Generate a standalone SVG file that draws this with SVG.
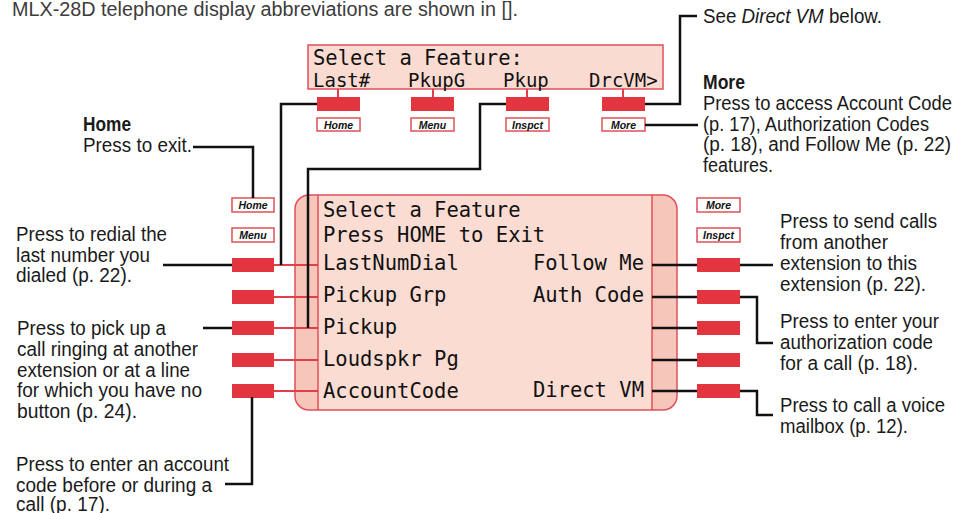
<svg xmlns="http://www.w3.org/2000/svg" width="959" height="513" viewBox="0 0 959 513">
<style>
.t{font-family:"Liberation Sans",Arial,sans-serif;font-size:20px;fill:#1a1a1a}
.b{font-weight:bold}
.cap{fill:#3c3c3c}
.lcd{font-family:"DejaVu Sans Mono","Liberation Mono",monospace;font-size:20.5px;fill:#111}
.lcd2{font-family:"DejaVu Sans Mono","Liberation Mono",monospace;font-size:19px;fill:#111}
.key{fill:#e3353f}
.lbl{fill:#fff;stroke:#e0505a;stroke-width:1.5}
.lt{font-family:"Liberation Sans",Arial,sans-serif;font-size:10.5px;font-weight:bold;font-style:italic;fill:#111;text-anchor:middle}
.blk{fill:none;stroke:#111;stroke-width:2.5}
.red{fill:none;stroke:#e0404a;stroke-width:2}
</style>

<text class="t cap" x="12" y="16" textLength="506" lengthAdjust="spacingAndGlyphs">MLX-28D telephone display abbreviations are shown in [].</text>

<g id="top-display">
<rect x="308" y="45" width="355" height="44" fill="#fadbd2" stroke="#e0505a" stroke-width="1.5"/>
<text class="lcd" x="313" y="65">Select a Feature:</text>
<text class="lcd2" x="313" y="87">Last#</text>
<text class="lcd2" x="408" y="87">PkupG</text>
<text class="lcd2" x="503" y="87">Pkup</text>
<text class="lcd2" x="589" y="87">DrcVM&gt;</text>
</g>

<g id="top-keys">
<path class="red" d="M338,89V97M433,89V97M527,89V97M623,89V97"/>
<rect class="key" x="317" y="97" width="43" height="14"/>
<rect class="key" x="411" y="97" width="43" height="14"/>
<rect class="key" x="506" y="97" width="43" height="14"/>
<rect class="key" x="602" y="97" width="43" height="14"/>
<rect class="lbl" x="317" y="118" width="43" height="13"/><text class="lt" x="338.5" y="128.5">Home</text>
<rect class="lbl" x="411" y="118" width="43" height="13"/><text class="lt" x="432.5" y="128.5">Menu</text>
<rect class="lbl" x="506" y="118" width="43" height="13"/><text class="lt" x="527.5" y="128.5">Inspct</text>
<rect class="lbl" x="602" y="118" width="43" height="13"/><text class="lt" x="623.5" y="128.5">More</text>
</g>

<g id="main-display">
<rect x="295" y="195" width="382" height="215" rx="14" fill="#f6c6bb"/>
<rect x="318" y="195" width="334" height="215" fill="#fbdcd2"/>
<path d="M318,195V410M652,195V410" stroke="#e0505a" stroke-width="1.5"/>
<rect x="295" y="195" width="382" height="215" rx="14" fill="none" stroke="#e0505a" stroke-width="1.5"/>
<text class="lcd" x="323" y="217">Select a Feature</text>
<text class="lcd" x="323" y="242">Press HOME to Exit</text>
<text class="lcd" x="323" y="270">LastNumDial</text>
<text class="lcd" x="323" y="302">Pickup Grp</text>
<text class="lcd" x="323" y="334">Pickup</text>
<text class="lcd" x="323" y="366">Loudspkr Pg</text>
<text class="lcd" x="323" y="398">AccountCode</text>
<text class="lcd" x="644" y="270" text-anchor="end">Follow Me</text>
<text class="lcd" x="644" y="302" text-anchor="end">Auth Code</text>
<text class="lcd" x="644" y="397" text-anchor="end">Direct VM</text>
</g>

<g id="left-keys">
<rect class="lbl" x="232" y="198" width="42" height="14"/><text class="lt" x="253" y="208.5">Home</text>
<rect class="lbl" x="232" y="228" width="42" height="14"/><text class="lt" x="253" y="238.5">Menu</text>
<path class="red" d="M274,265H318M274,297H318M274,328H318M274,360H318M274,391H318"/>
<rect class="key" x="232" y="258" width="42" height="14"/>
<rect class="key" x="232" y="290" width="42" height="14"/>
<rect class="key" x="232" y="321" width="42" height="14"/>
<rect class="key" x="232" y="353" width="42" height="14"/>
<rect class="key" x="232" y="384" width="42" height="14"/>
</g>

<g id="right-keys">
<rect class="lbl" x="697" y="198" width="43" height="14"/><text class="lt" x="718.5" y="208.5">More</text>
<rect class="lbl" x="697" y="228" width="43" height="14"/><text class="lt" x="718.5" y="238.5">Inspct</text>
<path class="blk" d="M652,265H697M652,297H697M652,328H697M652,360H697M652,391H697"/>
<rect class="key" x="697" y="258" width="43" height="14"/>
<rect class="key" x="697" y="290" width="43" height="14"/>
<rect class="key" x="697" y="321" width="43" height="14"/>
<rect class="key" x="697" y="353" width="43" height="14"/>
<rect class="key" x="697" y="384" width="43" height="14"/>
</g>

<g id="connectors">
<path class="blk" d="M317,104H281V265"/>
<path class="blk" d="M506,104H480V169H308V328"/>
<path class="blk" d="M645,104H680V16H697"/>
<path class="blk" d="M645,125H698"/>
<path class="blk" d="M193,147H253V198"/>
<path class="blk" d="M163,265H232"/>
<path class="blk" d="M203,328H232"/>
<path class="blk" d="M252,397V484H225"/>
<path class="blk" d="M740,265H773"/>
<path class="blk" d="M740,297H757V343H773"/>
<path class="blk" d="M740,391H757V415H773"/>
</g>

<g id="note-directvm">
<text class="t" x="703" y="23" textLength="179" lengthAdjust="spacingAndGlyphs">See <tspan font-style="italic">Direct VM</tspan> below.</text>
</g>

<g id="note-more">
<text class="t b" x="703" y="89" textLength="42" lengthAdjust="spacingAndGlyphs">More</text>
<text class="t" x="703" y="110" textLength="249" lengthAdjust="spacingAndGlyphs">Press to access Account Code</text>
<text class="t" x="703" y="131" textLength="226" lengthAdjust="spacingAndGlyphs">(p. 17), Authorization Codes</text>
<text class="t" x="703" y="151" textLength="248" lengthAdjust="spacingAndGlyphs">(p. 18), and Follow Me (p. 22)</text>
<text class="t" x="703" y="172" textLength="70" lengthAdjust="spacingAndGlyphs">features.</text>
</g>

<g id="note-home">
<text class="t b" x="83" y="131" textLength="48" lengthAdjust="spacingAndGlyphs">Home</text>
<text class="t" x="83" y="152" textLength="109" lengthAdjust="spacingAndGlyphs">Press to exit.</text>
</g>

<g id="note-redial">
<text class="t" x="16" y="241" textLength="151" lengthAdjust="spacingAndGlyphs">Press to redial the</text>
<text class="t" x="16" y="262" textLength="134" lengthAdjust="spacingAndGlyphs">last number you</text>
<text class="t" x="16" y="282" textLength="116" lengthAdjust="spacingAndGlyphs">dialed (p. 22).</text>
</g>

<g id="note-pickup">
<text class="t" x="17" y="335" textLength="149" lengthAdjust="spacingAndGlyphs">Press to pick up a</text>
<text class="t" x="17" y="356" textLength="181" lengthAdjust="spacingAndGlyphs">call ringing at another</text>
<text class="t" x="17" y="377" textLength="173" lengthAdjust="spacingAndGlyphs">extension or at a line</text>
<text class="t" x="17" y="397" textLength="185" lengthAdjust="spacingAndGlyphs">for which you have no</text>
<text class="t" x="17" y="418" textLength="120" lengthAdjust="spacingAndGlyphs">button (p. 24).</text>
</g>

<g id="note-account">
<text class="t" x="16" y="471" textLength="213" lengthAdjust="spacingAndGlyphs">Press to enter an account</text>
<text class="t" x="16" y="492" textLength="196" lengthAdjust="spacingAndGlyphs">code before or during a</text>
<text class="t" x="16" y="511" textLength="94" lengthAdjust="spacingAndGlyphs">call (p. 17).</text>
</g>

<g id="note-follow">
<text class="t" x="780" y="228" textLength="157" lengthAdjust="spacingAndGlyphs">Press to send calls</text>
<text class="t" x="780" y="249" textLength="108" lengthAdjust="spacingAndGlyphs">from another</text>
<text class="t" x="780" y="270" textLength="137" lengthAdjust="spacingAndGlyphs">extension to this</text>
<text class="t" x="780" y="291" textLength="146" lengthAdjust="spacingAndGlyphs">extension (p. 22).</text>
</g>

<g id="note-auth">
<text class="t" x="780" y="328" textLength="159" lengthAdjust="spacingAndGlyphs">Press to enter your</text>
<text class="t" x="780" y="349" textLength="153" lengthAdjust="spacingAndGlyphs">authorization code</text>
<text class="t" x="780" y="370" textLength="138" lengthAdjust="spacingAndGlyphs">for a call (p. 18).</text>
</g>

<g id="note-directvm2">
<text class="t" x="780" y="412" textLength="165" lengthAdjust="spacingAndGlyphs">Press to call a voice</text>
<text class="t" x="780" y="433" textLength="128" lengthAdjust="spacingAndGlyphs">mailbox (p. 12).</text>
</g>
</svg>
